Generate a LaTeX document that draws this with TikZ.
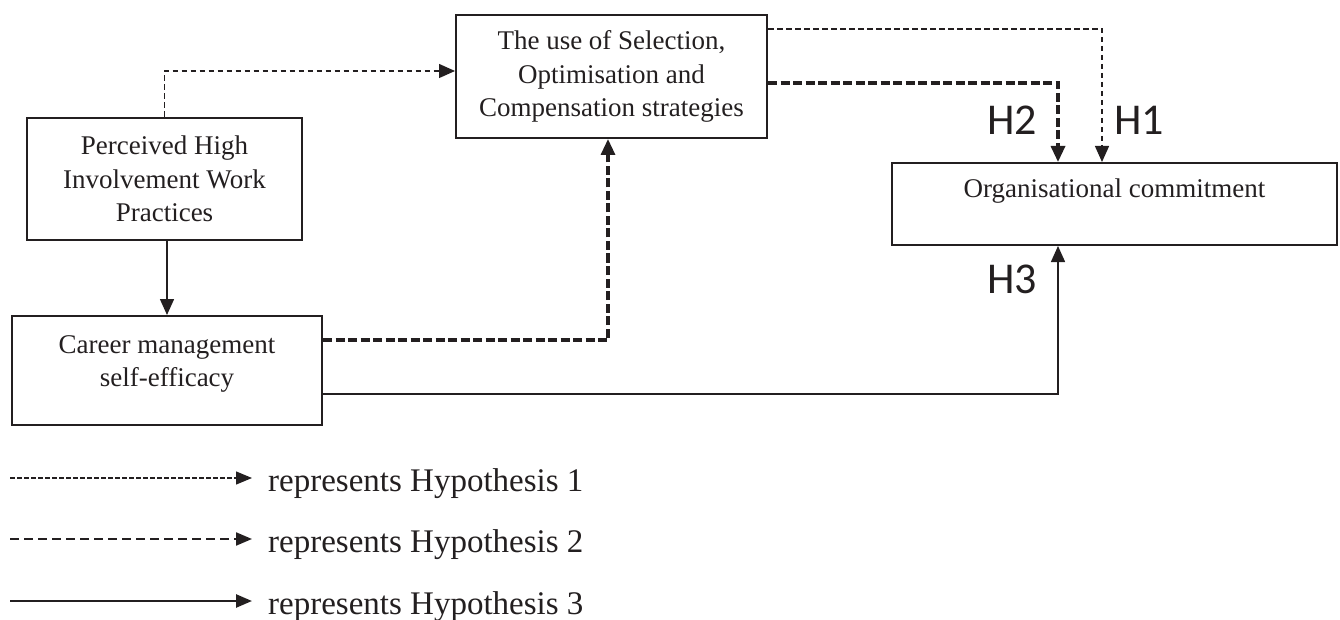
\documentclass[tikz,border=0pt]{standalone}
\usepackage{fontspec}
\setmainfont{Liberation Serif}
\newfontfamily\hfont{Carlito}
\usetikzlibrary{arrows.meta}
\definecolor{ink}{HTML}{231F20}
\newcommand\mylines[1]{\begin{tabular}[t]{@{}c@{}}#1\end{tabular}}
\begin{document}
\begin{tikzpicture}[x=1pt,y=-1pt,
  box/.style={draw=ink, line width=2pt, inner sep=0pt, text=ink,
    font=\fontsize{27}{33.5}\selectfont, text height=20pt},
  tip/.style={-{Triangle[length=16pt,width=14pt]}},
  ltip/.style={-{Triangle[length=16pt,width=13pt]}},
  hone/.style={tip, draw=ink, line width=1.3pt, dash pattern=on 5.5pt off 3.5pt},
  htwo/.style={tip, draw=ink, line width=3.2pt, dash pattern=on 9pt off 3.5pt},
  hthree/.style={tip, draw=ink, line width=1.5pt},
  hlabel/.style={font=\hfont\fontsize{44}{50}\selectfont, text=ink, inner sep=0pt, anchor=base west},
  legtext/.style={font=\fontsize{33}{40}\selectfont, text=ink, inner sep=0pt, anchor=base west}]
\useasboundingbox (0,0) rectangle (1340,620);

% boxes
\node[box, minimum width=275pt, minimum height=122pt, text depth=68pt] (P) at (164.5,179)
  {\mylines{Perceived High\\Involvement Work\\Practices}};
\node[box, minimum width=311pt, minimum height=123pt, text depth=73pt] (S) at (611.5,76.5)
  {\mylines{The use of Selection,\\Optimisation and\\Compensation strategies}};
\node[box, minimum width=445pt, minimum height=82pt, text depth=32pt] (O) at (1114.5,204)
  {Organisational commitment};
\node[box, minimum width=310pt, minimum height=109pt, text depth=55pt] (C) at (167,370.5)
  {\mylines{Career management\\self-efficacy}};

% connectors
\draw[hone] (P.north) |- (S.west |- 0,71);
\draw[hone] (S.east |- 0,29) -| (O.north -| 1102,0);
\draw[htwo] (S.east |- 0,83) -| (O.north -| 1058,0);
\draw[htwo] (C.east |- 0,340) -| (S.south -| 608,0);
\draw[hthree] (P.south -| C.north) -- (C.north);
\draw[hthree] (C.east |- 0,394) -| (O.south -| 1058,0);

% hypothesis labels
\node[hlabel] (H2) at (987,135) {H2};
\node[hlabel] (H1) at (1114,135) {H1};
\node[hlabel] (H3) at (987,293) {H3};

% legend
\coordinate (a1) at (10,478); \coordinate (b1) at (252,478);
\coordinate (a2) at (10,539); \coordinate (b2) at (252,539);
\coordinate (a3) at (10,601); \coordinate (b3) at (252,601);
\draw[ltip, draw=ink, line width=1.3pt, dash pattern=on 4.5pt off 2.5pt] (a1) -- (b1);
\draw[ltip, draw=ink, line width=2.2pt, dash pattern=on 9pt off 5pt] (a2) -- (b2);
\draw[ltip, draw=ink, line width=2.5pt] (a3) -- (b3);
\node[legtext] (L1) at (268,491) {represents Hypothesis 1};
\node[legtext] (L2) at (268,552) {represents Hypothesis 2};
\node[legtext] (L3) at (268,614) {represents Hypothesis 3};
\end{tikzpicture}
\end{document}
